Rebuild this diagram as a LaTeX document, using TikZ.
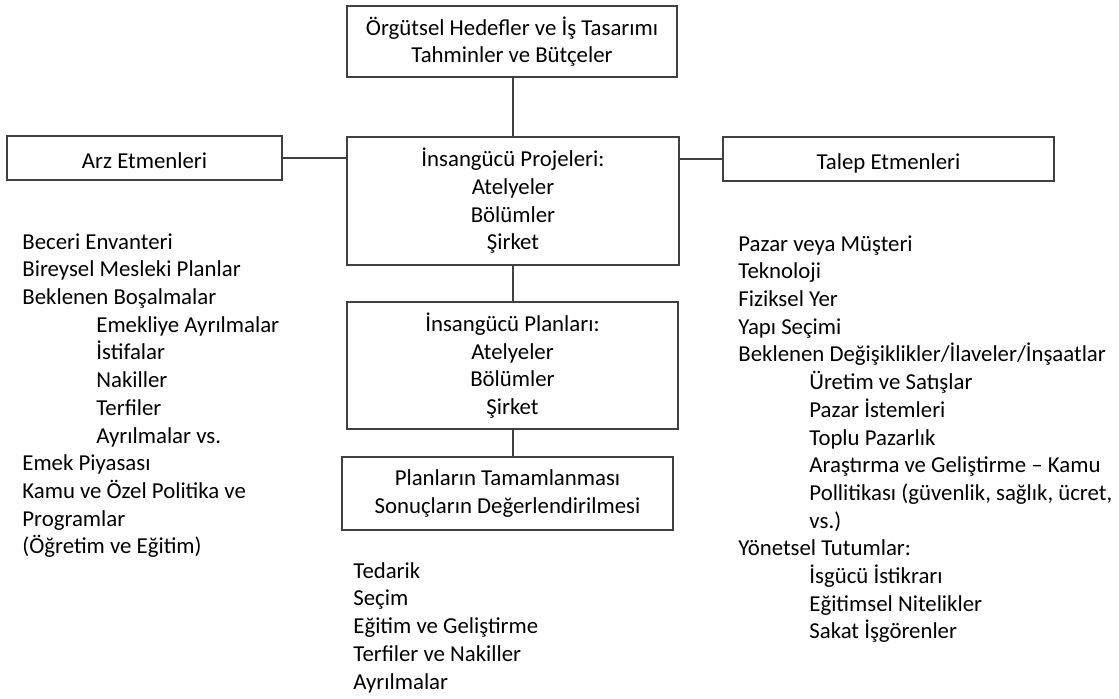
\documentclass[tikz,border=0pt]{standalone}
\usepackage{fontspec}
\setmainfont{Carlito}
\tikzset{
  kutu/.style={draw=black!75, line width=0.9pt, inner sep=0pt, align=center},
  liste/.style={inner sep=0pt, align=left, anchor=north west},
  cizgi/.style={draw=black!75, line width=0.8pt}
}
\newcommand{\girinti}{\hspace*{37pt}}
\newcommand{\sgirinti}{\hspace*{35.5pt}}
\begin{document}
\begin{tikzpicture}[x=0.5pt, y=-0.5pt, font=\fontsize{11.4}{13.85}\selectfont]
    \useasboundingbox (0,0) rectangle (1119,698);

    % kutular
    \node[kutu, minimum width=165pt, minimum height=35.5pt] (hedef) at (512,41.5)
        {Örgütsel Hedefler ve İş Tasarımı\\Tahminler ve Bütçeler};
    \node[kutu, minimum width=137.5pt, minimum height=22pt, text height=10pt, text depth=0pt] (arz) at (144.5,158) {Arz Etmenleri};
    \node[kutu, minimum width=165.5pt, minimum height=22pt, text height=10pt, text depth=0pt] (talep) at (888.5,159) {Talep Etmenleri};
    \node[kutu, minimum width=166pt, minimum height=64pt] (proje) at (513,201)
        {İnsangücü Projeleri:\\Atelyeler\\Bölümler\\Şirket};
    \node[kutu, minimum width=165.5pt, minimum height=63.5pt] (plan) at (512.5,365.5)
        {İnsangücü Planları:\\Atelyeler\\Bölümler\\Şirket};
    \node[kutu, minimum width=165.5pt, minimum height=36.5pt] (sonuc) at (507.5,493.5)
        {Planların Tamamlanması\\Sonuçların Değerlendirilmesi};

    % bağlantılar
    \draw[cizgi] (hedef.south -| proje.north) -- (proje.north);
    \draw[cizgi] (proje.south) -- (plan.north -| proje.south);
    \draw[cizgi] (plan.south -| proje.south) -- (sonuc.north -| proje.south);
    \draw[cizgi] (arz.east) -- (arz.east -| proje.west);
    \draw[cizgi] (proje.east |- talep.west) -- (talep.west);

    % arz listesi
    \node[liste] (arzliste) at (22,233) {Beceri Envanteri\\Bireysel Mesleki Planlar\\Beklenen Boşalmalar\\
        \girinti Emekliye Ayrılmalar\\\girinti İstifalar\\\girinti Nakiller\\\girinti Terfiler\\
        \girinti Ayrılmalar vs.\\Emek Piyasası\\Kamu ve Özel Politika ve\\Programlar\\(Öğretim ve Eğitim)};

    % talep listesi
    \node[liste] (talepliste) at (738,235) {Pazar veya Müşteri\\Teknoloji\\Fiziksel Yer\\Yapı Seçimi\\
        Beklenen Değişiklikler/İlaveler/İnşaatlar\\\sgirinti Üretim ve Satışlar\\\sgirinti Pazar İstemleri\\
        \sgirinti Toplu Pazarlık\\\sgirinti Araştırma ve Geliştirme – Kamu\\
        \sgirinti Pollitikası (güvenlik, sağlık, ücret,\\\sgirinti vs.)\\Yönetsel Tutumlar:\\
        \sgirinti İsgücü İstikrarı\\\sgirinti Eğitimsel Nitelikler\\\sgirinti Sakat İşgörenler};

    % sonuç listesi
    \node[liste] (sonucliste) at (353,562) {Tedarik\\Seçim\\Eğitim ve Geliştirme\\Terfiler ve Nakiller\\Ayrılmalar};
\end{tikzpicture}
\end{document}
